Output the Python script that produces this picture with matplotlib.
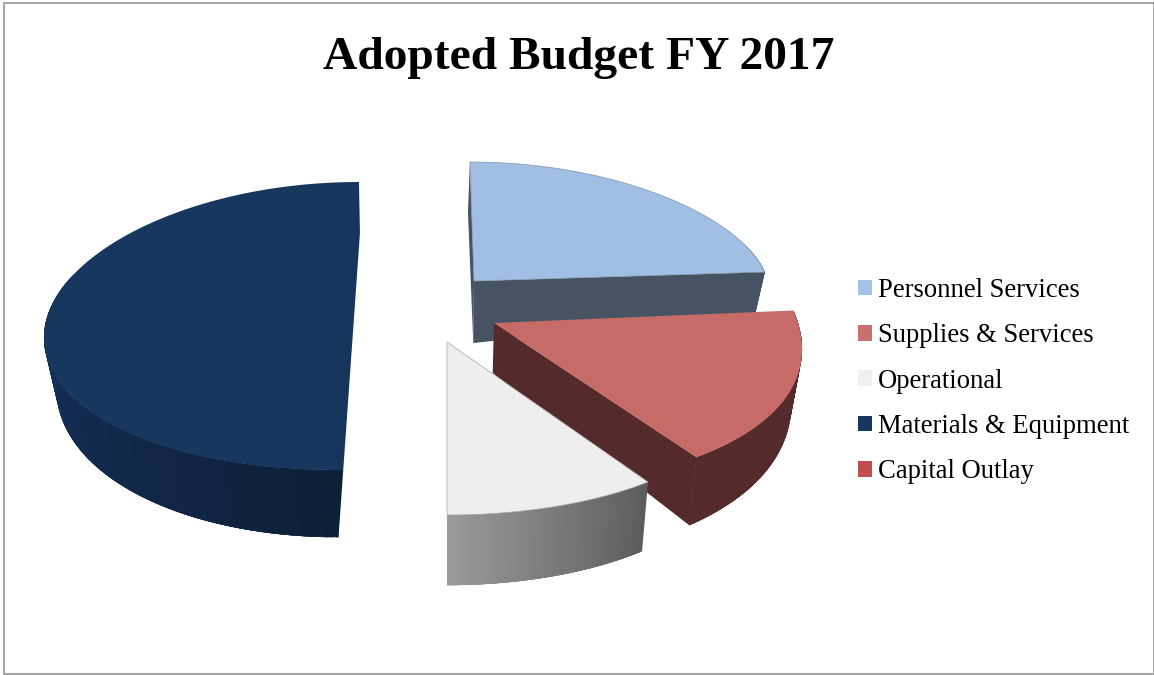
import matplotlib
matplotlib.use("Agg")
import matplotlib.pyplot as plt
import numpy as np
from matplotlib.collections import PolyCollection
from matplotlib.colors import to_rgb
from matplotlib.patches import Patch, Polygon, Rectangle

# =========================================================
# Data
# =========================================================
TITLE = "Adopted Budget FY 2017"
CATEGORIES = ["Personnel Services", "Supplies & Services", "Operational",
              "Materials & Equipment", "Capital Outlay"]
SHARES = [23.8, 16.2, 10.0, 50.0, 0.0]

# =========================================================
# Styles and per slice geometry (pixels)
# =========================================================
LEGEND_COLORS = ["#a4c2e8", "#c9706e", "#f0f0f0", "#17375e", "#c0504d"]
TOP_COLORS = ["#a1bfe4", "#c76b69", "#eeeeee", "#17375e"]
SIDE_START = ["#455362", "#542a2a", "#5c5c5c", "#0e2038"]
SIDE_END = ["#455362", "#542a2a", "#9a9a9a", "#1c407c"]

CENTER_X = [474, 494, 447, 347]
CENTER_Y = [281, 323, 342, 326]
RADIUS_X = [294, 304, 300, 302]
RADIUS_Y = [119, 166, 173, 144]
SHEAR = [0.034, 0.0, 0.0, -0.083]
PERSPECTIVE = [0.0008, 0.001, 0.001, 0.0003]
DEPTH = [62, 50, 65, 48]
DEPTH_KX = [-0.072, 0.0, 0.0, 0.0]
DEPTH_KY = [0.0, 0.134, 0.03, 0.134]

VANISH_X = 450
CONVERGE = 0.03


def top_point(i, theta):
    dy = -RADIUS_Y[i] * np.cos(theta)
    dx = RADIUS_X[i] * np.sin(theta) * (1 + PERSPECTIVE[i] * dy)
    return CENTER_X[i] + dx + SHEAR[i] * dy, CENTER_Y[i] + dy


def bottom_point(i, x, y):
    dx = x - CENTER_X[i]
    dy = y - CENTER_Y[i]
    depth = DEPTH[i] + DEPTH_KX[i] * dx + DEPTH_KY[i] * dy
    return x - (x - VANISH_X) * CONVERGE, y + depth


def draw_slice(ax, i, start, end):
    thetas = np.linspace(start, end, 181)
    xs, ys = top_point(i, thetas)
    xb, yb = bottom_point(i, xs, ys)
    cx, cy = CENTER_X[i], CENTER_Y[i]
    cxb, cyb = bottom_point(i, cx, cy)

    # outer curved side, strips overlap a few steps so no seams show between them
    c0 = np.array(to_rgb(SIDE_START[i]))
    c1 = np.array(to_rgb(SIDE_END[i]))
    strips = []
    cols = []
    for k in range(len(thetas) - 1):
        if np.cos(thetas[k]) > 0.3:
            continue
        k2 = min(k + 4, len(thetas) - 1)
        strips.append(np.column_stack([np.r_[xs[k:k2 + 1], xb[k:k2 + 1][::-1]],
                                       np.r_[ys[k:k2 + 1], yb[k:k2 + 1][::-1]]]))
        cols.append(c0 + (c1 - c0) * k / (len(thetas) - 2))
    if strips:
        ax.add_collection(PolyCollection(strips, facecolors=cols, edgecolors="none"))

    # cut walls
    if i == 0:
        ax.add_patch(Polygon([(xs[0], ys[0]), (cx, cy), (cxb, cyb), (xs[0] - 2, ys[0] + 50)],
                             fc=SIDE_START[i], ec="none"))
        ax.add_patch(Polygon([(cx, cy), (xs[-1], ys[-1]), (xb[-1], yb[-1]), (cxb, cyb)],
                             fc=SIDE_START[i], ec="none"))
    elif i == 1:
        ax.add_patch(Polygon([(cx, cy), (xs[-1], ys[-1]), (xb[-1], yb[-1]), (cxb, cyb)],
                             fc=SIDE_START[i], ec="none"))
    elif i == 3:
        # flat face seen at a grazing angle, runs under the top face to hide the seam
        ex, ey = xs[-1] + 1, ys[-1] + 51
        t = (ys[0] - ey) / (yb[0] - ey)
        mx = ex + (xb[0] - ex) * t
        ax.add_patch(Polygon([(xs[-1] - 3, ys[-1]), (xs[-1], ys[-1]), (ex, ey), (mx, ys[0]), (xs[0] - 3, ys[0])],
                             fc="#16355c", ec="none"))
        ax.add_patch(Polygon([(xs[0] - 1, ys[0]), (mx, ys[0]), (xb[0], yb[0]), (xb[0] - 2, yb[0])],
                             fc=SIDE_START[i], ec="none"))

    # top face
    outline = {0: "#8496a8", 2: "#a8a8a8"}.get(i, "none")
    ax.add_patch(Polygon(np.column_stack([np.r_[cx, xs], np.r_[cy, ys]]),
                         fc=TOP_COLORS[i], ec=outline, lw=0.5, joinstyle="miter"))


def main():
    fig = plt.figure(figsize=(11.54, 6.75), dpi=100)
    ax = fig.add_axes([0, 0, 1, 1])
    ax.set_xlim(0, 1154)
    ax.set_ylim(675, 0)
    ax.axis("off")

    ax.add_patch(Rectangle((3.5, 2.5), 1150, 671.5, fc="white", ec="#8c8c8c", lw=1.1))

    edges = np.radians(np.cumsum([0] + SHARES) * 3.6)
    for i in [3, 0, 1, 2]:
        draw_slice(ax, i, edges[i], edges[i + 1])

    ax.text(578.5, 69, TITLE, family="Liberation Serif", fontweight="bold", fontsize=34.2,
            ha="center", va="baseline", color="black")

    handles = [Patch(fc=c, ec="none") for c in LEGEND_COLORS]
    ax.legend(handles, CATEGORIES, loc="upper left", bbox_to_anchor=(858, 278),
              bbox_transform=ax.transData, frameon=False, borderpad=0, borderaxespad=0,
              prop={"family": "Liberation Serif", "size": 19.15},
              handlelength=0.53, handleheight=0.53, handletextpad=0.23, labelspacing=0.765)

    fig.savefig("out.png", dpi=100)


if __name__ == "__main__":
    main()
